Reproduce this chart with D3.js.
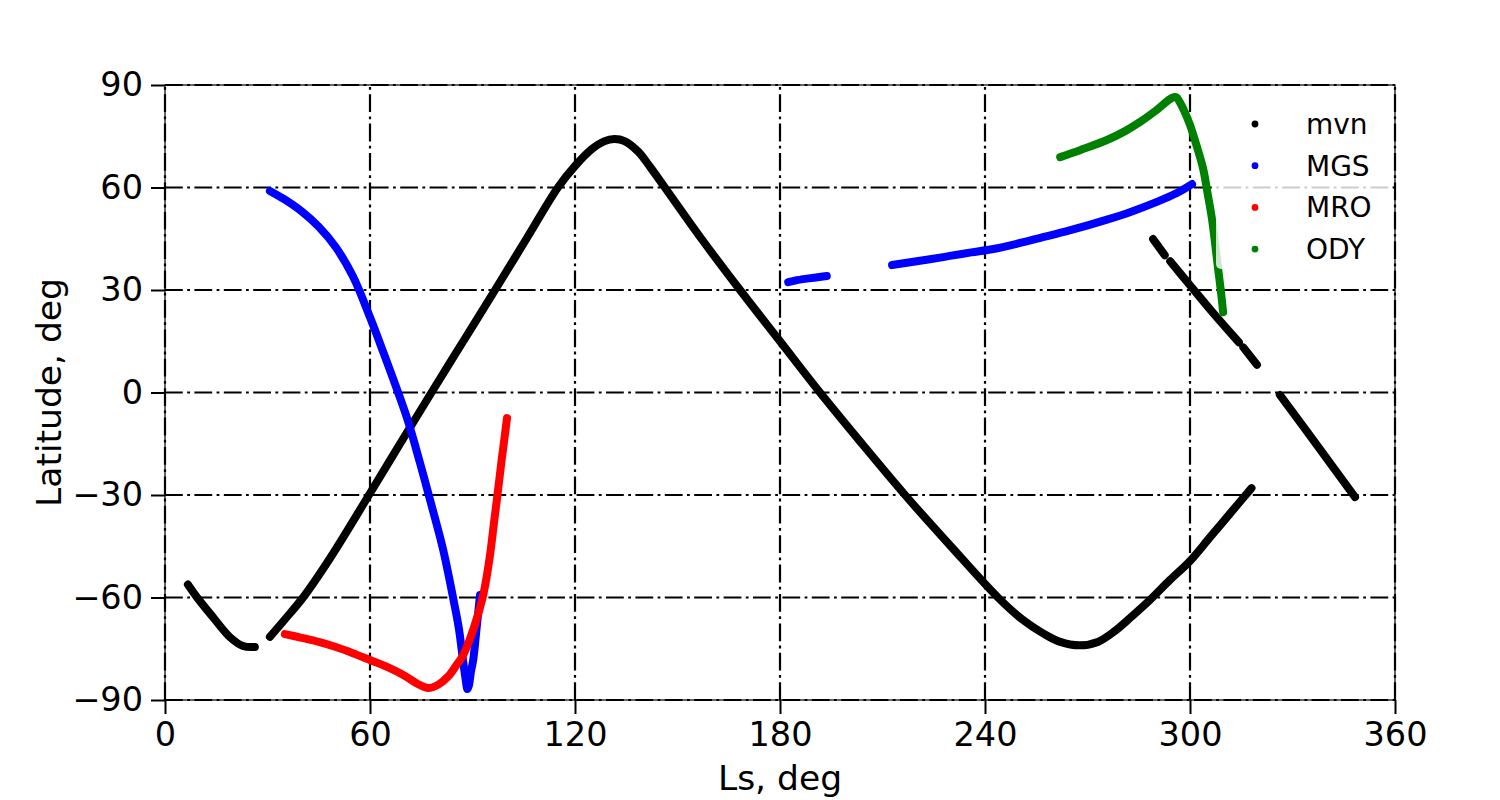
<!DOCTYPE html>
<html lang="en">
<head>
    <meta charset="UTF-8">
    <title>Latitude vs Ls</title>
    <script src="https://d3js.org/d3.v7.min.js"></script>
    <style>
        body { margin: 0; background: #fff; }
        text { font-family: "DejaVu Sans", sans-serif; fill: #000; }
        .grid line { stroke: #000; stroke-width: 2.2; stroke-dasharray: 17.8 4.4 2.8 4.4; }
        .track { fill: none; stroke-width: 8; stroke-linecap: round; stroke-linejoin: round; }
    </style>
</head>
<body>
    <svg width="1500" height="800"></svg>
    <script>
        const width = 1500;
        const height = 800;
        const margin = {left: 165, right: 105, top: 85, bottom: 100};

        // Ticks
        const xTicks = [0, 60, 120, 180, 240, 300, 360];
        const yTicks = [-90, -60, -30, 0, 30, 60, 90];

        // Series, each one a list of continuous pieces of [Ls, latitude]
        const mvn = [
            [[6.7, -56.2], [9.4, -60], [14, -65.7], [19, -71.6], [22.8, -74.2], [26.3, -74.5]],
            [[30.7, -71.5], [35, -66.5], [40.4, -60], [48.3, -48.5], [59.7, -30], [68.8, -15],
             [78, 0], [87.3, 15], [96.6, 30], [105.8, 45], [115, 60], [120, 66.3], [125, 71.3],
             [128.5, 73.5], [131.5, 74.2], [134.5, 73.6], [138.5, 70.5], [142, 66], [146.3, 60],
             [157, 45], [168.3, 30], [180, 15], [191.7, 0], [204, -15], [216.6, -30], [230, -45],
             [243.8, -60], [251, -66.5], [257, -70.5], [262, -73], [267.8, -74], [273, -73],
             [278, -69.8], [283, -65.5], [288.3, -60.7], [294, -55], [300, -49.3], [306, -42.2],
             [312, -35.1], [318, -28]],
            [[289.2, 44.9], [292.6, 40.2]],
            [[294.2, 38.4], [300, 31.4], [307, 23], [314.3, 14.7]],
            [[315.6, 13.2], [319.6, 8.1]],
            [[326.3, -0.7], [337, -15.2], [348.3, -30.6]]
        ];

        const mgs = [
            [[30.7, 59], [35, 56.5], [40, 53], [45, 48.5], [50, 42.5], [55, 34], [60, 22],
             [64, 11.5], [67.5, 2], [71, -8], [74.6, -20.5], [78, -33], [81.4, -46], [84.3, -60],
             [86, -69], [87.2, -78.3], [88, -84], [88.5, -86.8], [89, -85.5], [89.5, -82],
             [90.2, -78.3], [91.2, -69], [92.2, -59.3]],
            [[182.4, 32.3], [185, 32.9]],
            [[186.2, 33.1], [190, 33.6], [193.7, 34.1]],
            [[212.8, 37.3], [220, 38.4], [228.2, 39.7]],
            [[229.2, 39.9], [236, 41], [242.4, 42], [250, 43.7], [256, 45.2], [265, 47.5],
             [275.7, 50.6], [283, 53], [290.3, 55.8], [296, 58.3], [300.6, 61]]
        ];

        const mro = [
            [[35.1, -70.7], [40, -71.8], [45, -73], [50, -74.5], [55, -76.3], [60, -78.3],
             [65, -80.3], [70, -82.8], [74, -85.3], [77, -86.5], [80, -85.5], [83, -83],
             [85.5, -79.5], [87.2, -77], [89.3, -72], [91.3, -66], [93.2, -59], [95, -48.5],
             [96.3, -38], [97.3, -30], [98.5, -20], [99.4, -13], [100.1, -7.5]]
        ];

        const ody = [
            [[262, 68.9], [268, 71], [275.7, 73.9], [281, 76.5], [285.4, 79.2], [290, 82.5],
             [294.7, 86.2], [296, 86.4], [297, 85], [298.5, 82], [300, 78.3], [302, 72],
             [303.8, 65.7], [305.2, 58], [306.4, 51], [307.3, 44], [308.2, 36.4], [309, 30],
             [309.7, 23.5]]
        ];

        const seriesNames = ["mvn", "MGS", "MRO", "ODY"];
        const seriesColors = ["#000000", "#0000ff", "#ff0000", "#008000"];
        const seriesData = [mvn, mgs, mro, ody];

        const svg = d3.select("svg");

        const x = d3.scaleLinear().domain([0, 360]).range([margin.left, width - margin.right]);
        const y = d3.scaleLinear().domain([-90, 90]).range([height - margin.bottom, margin.top]);

        // Dash-dot grid
        const grid = svg.append("g").attr("class", "grid");
        grid.selectAll(".gx").data(xTicks).enter().append("line")
            .attr("x1", d => x(d)).attr("x2", d => x(d))
            .attr("y1", y(-90)).attr("y2", y(90));
        grid.selectAll(".gy").data(yTicks).enter().append("line")
            .attr("x1", x(0)).attr("x2", x(360))
            .attr("y1", d => y(d)).attr("y2", d => y(d));

        // Tracks (drawn in plotting order: mvn, MGS, MRO, ODY)
        const line = d3.line().x(d => x(d[0])).y(d => y(d[1])).curve(d3.curveCatmullRom.alpha(0.5));
        seriesData.forEach((segs, i) => {
            svg.append("g").selectAll("path").data(segs).enter().append("path")
                .attr("class", "track")
                .attr("stroke", seriesColors[i])
                .attr("d", line);
        });

        // Frame
        svg.append("rect")
            .attr("x", x(0)).attr("y", y(90))
            .attr("width", x(360) - x(0)).attr("height", y(-90) - y(90))
            .attr("fill", "none").attr("stroke", "#000").attr("stroke-width", 1.2);

        // Axes
        const xAxis = svg.append("g")
            .attr("transform", `translate(0,${y(-90)})`)
            .call(d3.axisBottom(x).tickValues(xTicks).tickSize(14).tickPadding(8));
        const yAxis = svg.append("g")
            .attr("transform", `translate(${x(0)},0)`)
            .call(d3.axisLeft(y).tickValues(yTicks).tickSize(14).tickPadding(8));
        [xAxis, yAxis].forEach(a => {
            a.select(".domain").remove();
            a.attr("font-size", null).attr("font-family", null);
            a.selectAll(".tick line").attr("stroke", "#000").attr("stroke-width", 2);
            a.selectAll(".tick text").style("font-size", "33.5px");
        });

        svg.append("text")
            .attr("x", (x(0) + x(360)) / 2).attr("y", 790)
            .attr("text-anchor", "middle").style("font-size", "34.5px")
            .text("Ls, deg");
        svg.append("text")
            .attr("transform", `translate(61,${(y(90) + y(-90)) / 2}) rotate(-90)`)
            .attr("text-anchor", "middle").style("font-size", "34.5px")
            .text("Latitude, deg");

        // Legend
        const legend = svg.append("g");
        legend.append("rect")
            .attr("x", 1216).attr("y", 92).attr("width", 173).attr("height", 177)
            .attr("rx", 5).attr("fill", "#fff").attr("fill-opacity", 0.8);
        seriesNames.forEach((name, i) => {
            const ly = 124 + i * 41.7;
            legend.append("circle").attr("cx", 1255).attr("cy", ly).attr("r", 3.4)
                .attr("fill", seriesColors[i]);
            legend.append("text").attr("x", 1306).attr("y", ly + 10)
                .style("font-size", "28px").text(name);
        });
    </script>
</body>
</html>
